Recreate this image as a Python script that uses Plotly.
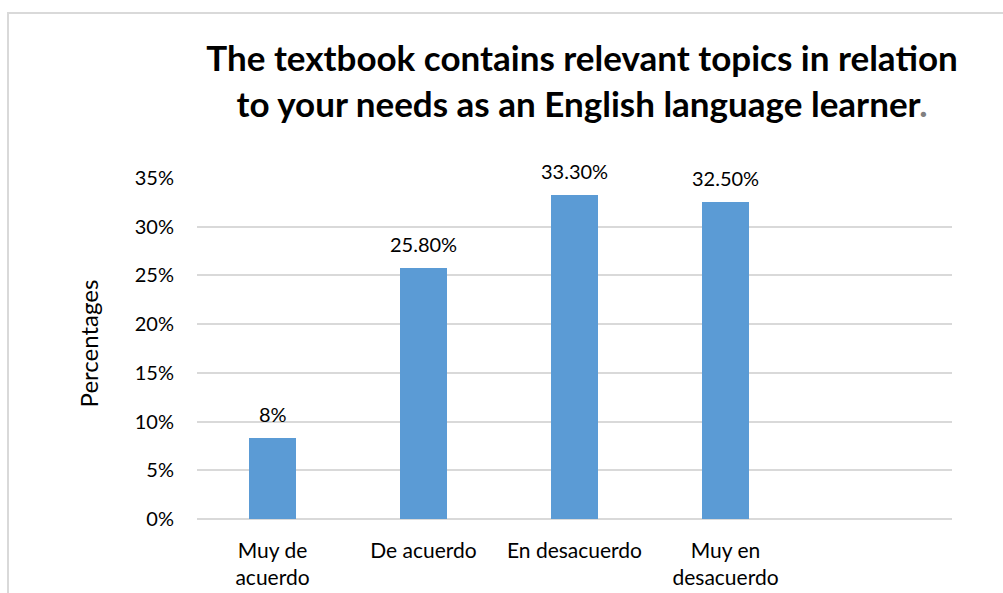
import plotly.graph_objects as go

categories = ["Muy de<br>acuerdo", "De acuerdo", "En desacuerdo", "Muy en<br>desacuerdo"]
values = [8.3, 25.8, 33.3, 32.5]
value_labels = ["8%", "25.80%", "33.30%", "32.50%"]
y_ticks = [0, 5, 10, 15, 20, 25, 30, 35]
y_tick_labels = ["0%", "5%", "10%", "15%", "20%", "25%", "30%", "35%"]
title_text = ("The textbook contains relevant topics in relation<br>"
              "to your needs as an English language learner<span style='color:#808080'>.</span>")
y_title = "Percentages"

FONT = "Lato"
positions = list(range(len(categories)))

fig = go.Figure()
fig.add_trace(go.Bar(
    x=positions,
    y=values,
    width=0.31,
    marker=dict(color="#5B9BD5", line=dict(width=0)),
    hoverinfo="skip",
))

label_annotations = [
    dict(
        x=xp, y=v, xref="x", yref="y", text=t,
        xanchor="center", yanchor="bottom", yshift=10,
        showarrow=False,
        font=dict(family=FONT, size=20, color="#000000"),
    )
    for xp, v, t in zip(positions, values, value_labels)
]

fig.update_layout(
    width=1003,
    height=593,
    margin=dict(l=197, r=51, t=178, b=74, autoexpand=False),
    paper_bgcolor="white",
    plot_bgcolor="white",
    showlegend=False,
    bargap=0,
    font=dict(family=FONT, size=20, color="#000000"),
    title=dict(
        text=title_text,
        x=0.51, xanchor="center", xref="paper",
        y=0.88, yanchor="middle",
        font=dict(family=FONT, size=35, color="#000000", weight="bold"),
    ),
    xaxis=dict(
        range=[-0.5, 4.5],
        tickmode="array",
        tickvals=positions,
        ticktext=categories,
        showgrid=False,
        zeroline=False,
        showline=False,
        ticks="",
        automargin=False,
        ticklabelstandoff=17,
        tickfont=dict(family=FONT, size=21, color="#000000"),
    ),
    yaxis=dict(
        range=[0, 35],
        tickmode="array",
        tickvals=y_ticks,
        ticktext=y_tick_labels,
        showgrid=True,
        gridcolor="#D9D9D9",
        gridwidth=1.5,
        zeroline=True,
        zerolinecolor="#D9D9D9",
        zerolinewidth=1.5,
        showline=False,
        ticks="",
        automargin=False,
        ticklabelstandoff=22,
        tickfont=dict(family=FONT, size=20, color="#000000"),
    ),
    shapes=[dict(
        type="rect", xref="paper", yref="paper",
        x0=-189 / 755, x1=1.2,
        y0=-0.5, y1=1 + 165 / 341,
        line=dict(color="#D9D9D9", width=2),
        fillcolor="rgba(0,0,0,0)",
        layer="below",
    )],
    annotations=label_annotations + [dict(
        text=y_title, xref="paper", yref="paper",
        x=0, y=0.515, xanchor="center", yanchor="middle",
        xshift=-109, textangle=-90, showarrow=False,
        font=dict(family=FONT, size=24, color="#000000"),
    )],
)

fig.write_html(
    "out.html",
    config={"displayModeBar": False},
    post_script="document.body.style.margin='0';document.body.style.overflow='hidden';",
)
